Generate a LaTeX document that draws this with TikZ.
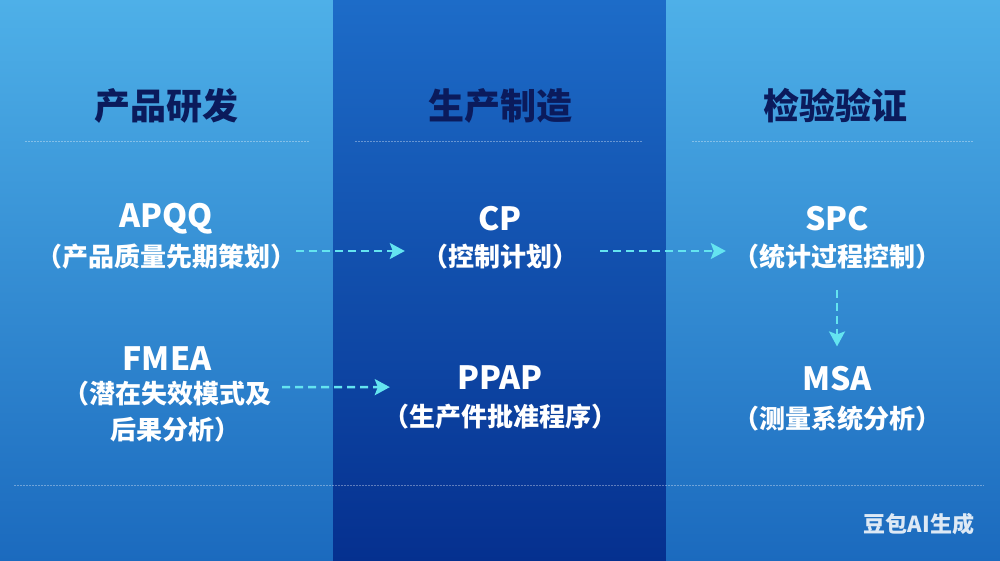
\documentclass[tikz,border=0pt]{standalone}
\usepackage{fontspec}
\usepackage{tikz}
\usetikzlibrary{arrows.meta}
\newfontfamily\cjk{Noto Sans CJK SC}
\definecolor{sidetop}{RGB}{78,176,232}
\definecolor{sidebot}{RGB}{27,106,190}
\definecolor{midtop}{RGB}{29,108,200}
\definecolor{midbot}{RGB}{5,48,143}
\definecolor{headnavy}{RGB}{11,27,92}
\definecolor{flowcyan}{RGB}{100,228,240}

\begin{document}
\begin{tikzpicture}[x=1pt,y=-1pt,
		head/.style={inner sep=0pt, text=headnavy, font=\cjk\bfseries\fontsize{36}{40}\selectfont},
		title/.style={inner sep=0pt, text=white, font=\cjk\bfseries\fontsize{32}{36}\selectfont},
		sub/.style={inner sep=0pt, text=white, align=center, font=\cjk\bfseries\fontsize{26}{36}\selectfont},
		flow/.style={color=flowcyan, line width=2.5pt, dash pattern=on 8pt off 5pt, -{Stealth[length=15pt,width=16pt,inset=3pt]}},
		rule/.style={white, opacity=0.35, line width=0.8pt, dash pattern=on 1.5pt off 1.5pt}]
			\useasboundingbox (0,0) rectangle (1000,561);
			% three columns
			\shade[top color=sidetop, bottom color=sidebot] (0,0) rectangle (333,561);
			\shade[top color=midtop, bottom color=midbot] (333,0) rectangle (666,561);
			\shade[top color=sidetop, bottom color=sidebot] (666,0) rectangle (1000,561);
			\draw[rule] (25,141) -- (309,141);
			\draw[rule] (355,141) -- (642,141);
			\draw[rule] (692,141) -- (974,141);
			\draw[rule] (14,485) -- (984,485);
			% headers
			\node[head] (dev) at (166,106) {产品研发};
			\node[head] (make) at (500,106) {生产制造};
			\node[head] (check) at (835,106) {检验验证};
			% tools
			\node[title] (apqq) at (166,219) {APQQ};
			\node[sub] (apqqsub) at (166,257) {（产品质量先期策划）};
			\node[title] (cp) at (500,219) {CP};
			\node[sub] (cpsub) at (500,257) {（控制计划）};
			\node[title] (spc) at (837,219) {SPC};
			\node[sub] (spcsub) at (837,257) {（统计过程控制）};
			\node[title] (fmea) at (167,359) {FMEA};
			\node[sub] (fmeasub) at (167,412) {（潜在失效模式及\\\hspace*{16pt}后果分析）};
			\node[title] (ppap) at (500,378) {PPAP};
			\node[sub] (ppapsub) at (500,417) {（生产件批准程序）};
			\node[title] (msa) at (837,379) {MSA};
			\node[sub] (msasub) at (837,419) {（测量系统分析）};
			% flows
			\draw[flow] ([yshift=6pt]apqqsub.east) -- ([xshift=-17pt,yshift=6pt]cpsub.west);
			\draw[flow] ([xshift=22pt,yshift=6pt]cpsub.east) -- ([xshift=-7pt,yshift=6pt]spcsub.west);
			\draw[flow] ([xshift=11pt,yshift=-6pt]fmeasub.north east) -- ([xshift=7pt,yshift=17pt]ppapsub.north west);
			\draw[flow, shorten <=20pt, shorten >=20pt] (spcsub.south) -- (msa.north);
			\node[inner sep=0pt, text=white, opacity=0.85, font=\cjk\bfseries\fontsize{22}{24}\selectfont] (mark) at (919,524) {豆包AI生成};
		\end{tikzpicture}
\end{document}
